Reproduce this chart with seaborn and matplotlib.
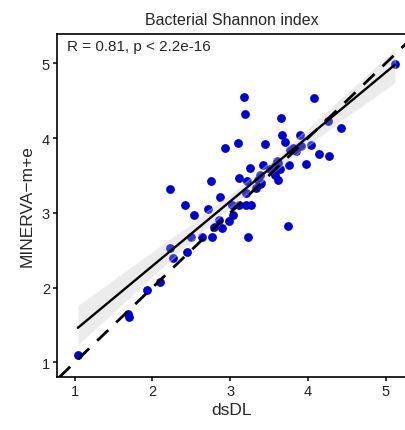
import numpy as np
import pandas as pd
import matplotlib
matplotlib.use("Agg")
import matplotlib.pyplot as plt
import seaborn as sns

# ---- data ----
dsdl = [1.04, 1.70, 1.69, 1.93, 2.10, 2.45, 2.26, 2.22, 2.50, 2.64,
        2.77, 2.79, 2.89, 2.86, 2.99, 3.03, 3.23, 3.74, 2.54, 2.72,
        2.42, 2.87, 2.23, 2.75, 3.02, 3.11, 3.20, 3.27, 3.20, 3.22,
        3.11, 3.26, 3.42, 3.33, 3.38, 3.40, 3.36, 3.38, 3.51, 3.55,
        3.57, 3.62, 3.64, 3.57, 3.60, 3.62, 3.76, 3.97, 3.77, 3.81,
        3.85, 3.91, 4.04, 4.14, 4.27, 3.45, 3.67, 3.70, 3.90, 3.65,
        4.26, 4.43, 4.08, 3.18, 3.19, 3.10, 2.93, 5.12]
minerva = [1.10, 1.60, 1.65, 1.97, 2.07, 2.47, 2.40, 2.53, 2.67, 2.67,
           2.68, 2.81, 2.79, 2.90, 2.89, 2.97, 2.67, 2.83, 2.97, 3.05,
           3.11, 3.21, 3.32, 3.42, 3.10, 3.10, 3.11, 3.11, 3.27, 3.42,
           3.47, 3.60, 3.64, 3.33, 3.38, 3.40, 3.44, 3.51, 3.58, 3.55,
           3.50, 3.44, 3.58, 3.63, 3.69, 3.67, 3.64, 3.65, 3.84, 3.87,
           3.82, 3.89, 3.90, 3.79, 3.76, 3.92, 4.04, 3.95, 4.04, 4.27,
           4.23, 4.13, 4.53, 4.55, 4.32, 3.94, 3.87, 4.99]
x_ticks = [1, 2, 3, 4, 5]
y_ticks = [1, 2, 3, 4, 5]
title = "Bacterial Shannon index"
stat_label = "R = 0.81, p < 2.2e-16"

df = pd.DataFrame({"dsDL": dsdl, "MINERVA": minerva})

sns.set_style("white")
plt.rcParams['font.family'] = ['Liberation Sans', 'DejaVu Sans']

fig = plt.figure(figsize=(4.06, 4.31), dpi=100)
ax = fig.add_axes([57 / 406, 52.7 / 431, (406 - 57) / 406, (378.3 - 34.7) / 431])

xlim = (0.772, 5.261)
ylim = (0.80, 5.395)
ax.set_xlim(*xlim)
ax.set_ylim(*ylim)

sns.scatterplot(data=df, x="dsDL", y="MINERVA", ax=ax, color="#0000CC",
                s=40, linewidth=0, zorder=1)

sns.regplot(data=df, x="dsDL", y="MINERVA", ax=ax, scatter=False,
            color="black", truncate=True, ci=95,
            line_kws={"lw": 1.7, "zorder": 3})
# restyle confidence band (light grey, drawn over points)
for coll in ax.collections[1:]:
    coll.set_facecolor((190 / 255, 190 / 255, 190 / 255))
    coll.set_alpha(0.3)
    coll.set_zorder(2)

# identity line
ax.axline((1, 1), slope=1, color="black", lw=2.0, linestyle=(0, (5.5, 4)), zorder=4)

ax.set_xlim(*xlim)
ax.set_ylim(*ylim)
ax.set_xticks(x_ticks)
ax.set_yticks(y_ticks)
ax.tick_params(axis="both", which="major", length=3, width=1.1, color="black",
               labelsize=10.5, labelcolor="#222222", pad=2, direction="out",
               bottom=True, left=True)
for side in ["left", "bottom", "top"]:
    ax.spines[side].set_visible(True)
    ax.spines[side].set_color("black")
    ax.spines[side].set_linewidth(1.2)
ax.spines["right"].set_visible(False)

ax.set_xlabel("dsDL", fontsize=12.5, labelpad=3)
ax.set_ylabel("MINERVA\u2212m+e", fontsize=12.5, labelpad=5)
ax.set_title(title, fontsize=11.5, pad=7)
ax.text(0.028, 0.985, stat_label, transform=ax.transAxes, fontsize=11,
        ha="left", va="top")

fig.savefig("out.png", dpi=100)
